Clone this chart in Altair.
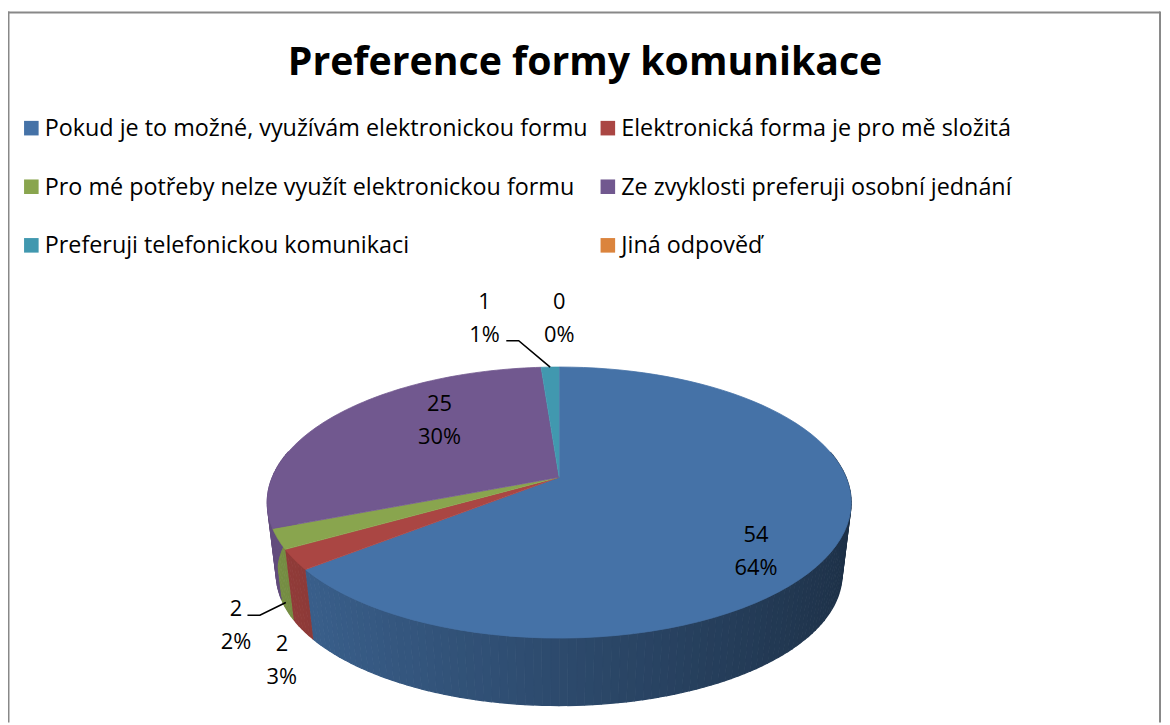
import altair as alt
import pandas as pd

# ---------------- data ----------------
title = "Preference formy komunikace"
categories = [
    "Pokud je to možné, využívám elektronickou formu",
    "Elektronická forma je pro mě složitá",
    "Pro mé potřeby nelze využít elektronickou formu",
    "Ze zvyklosti preferuji osobní jednání",
    "Preferuji telefonickou komunikaci",
    "Jiná odpověď",
]
counts = [54, 2, 2, 25, 1, 0]
percent_labels = ["64%", "3%", "2%", "30%", "1%", "0%"]
colors = ["#4572A7", "#AA4643", "#89A54E", "#71588F", "#4198AF", "#DB843D"]

# ---------------- label layout (radius factor, angular shift) ----------------
label_radius = [0.806, 1.349, 1.318, 0.654, 1.601, 1.565]
label_shift_deg = [14.0, -21.1, -19.4, 13.9, -10.0, 0.0]
leader_on = [0, 0, 1, 0, 1, 0]
leader_dx = [0, 0, 11.5, 0, 22, 0]
leader_dy = [0, 0, -10, 0, 22, 0]
leader_depth = [0, 0, 0.9, 0, 0, 0]

# ---------------- geometry of the 3D pie (perspective ellipse) ----------------
W, H = 1162, 717
CX, CY, AX, BZ, G = 563, 478, 288.8, 131.7, 0.1868
S, CYB = 0.969, 551
FONT = "Open Sans"


def hex_rgb(h):
    return int(h[1:3], 16), int(h[3:5], 16), int(h[5:7], 16)


df = pd.DataFrame({
    "cat": categories,
    "val": counts,
    "idx": list(range(len(categories))),
    "pct": percent_labels,
    "r": [hex_rgb(c)[0] for c in colors],
    "g": [hex_rgb(c)[1] for c in colors],
    "b": [hex_rgb(c)[2] for c in colors],
    "lr": label_radius,
    "ls": label_shift_deg,
    "lon": leader_on,
    "ldx": leader_dx,
    "ldy": leader_dy,
    "ldep": leader_depth,
})

xs = alt.Scale(domain=[8, 8 + W], nice=False, zero=False)
ys = alt.Scale(domain=[8, 8 + H], nice=False, zero=False, reverse=True)
color_scale = alt.Scale(domain=categories, range=colors)


def with_angles(ch):
    return (
        ch.transform_joinaggregate(total="sum(val)")
        .transform_window(cum="sum(val)", sort=[alt.SortField("idx")], frame=[None, 0])
        .transform_calculate(
            a0="(datum.cum - datum.val) / datum.total * 2 * PI",
            a1="datum.cum / datum.total * 2 * PI",
        )
    )


def proj_x(X, Z, s="1"):
    return f"{CX} + ({s}) * {AX} * ({X}) / (1 + {G} * ({Z}))"


def proj_y(X, Z, s="1", cy=f"{CY}"):
    return f"({cy}) - ({s}) * {BZ} * ({Z}) / (1 + {G} * ({Z}))"


# ---------------- side walls (shaded strips) ----------------
side = (
    with_angles(alt.Chart(df))
    .transform_filter("datum.val > 0")
    .transform_calculate(c0="max(datum.a0, PI / 2 - 0.2)", c1="min(datum.a1, 3 * PI / 2 + 0.2)")
    .transform_filter("datum.c1 > datum.c0")
    .transform_calculate(n="ceil((datum.c1 - datum.c0) / 0.025)")
    .transform_calculate(ss="sequence(0, datum.n)")
    .transform_flatten(["ss"], as_=["s"])
    .transform_calculate(jj="[0, 1, 2, 3]")
    .transform_flatten(["jj"], as_=["j"])
    .transform_calculate(
        t="datum.c0 + (datum.c1 - datum.c0) * (datum.s + ((datum.j == 1 || datum.j == 2) ? 1 : 0)) / datum.n",
        tm="datum.c0 + (datum.c1 - datum.c0) * (datum.s + 0.5) / datum.n",
        lev="datum.j >= 2 ? 1 : 0",
    )
    .transform_calculate(
        X="sin(datum.t)",
        Z="cos(datum.t)",
        f="0.65 - 0.23 * sin(datum.tm)",
        sc=f"datum.lev == 1 ? {S} : 1",
        cyy=f"datum.lev == 1 ? {CYB} : {CY}",
    )
    .transform_calculate(
        px=proj_x("datum.X", "datum.Z", "datum.sc"),
        py=proj_y("datum.X", "datum.Z", "datum.sc", "datum.cyy"),
        scol="'rgb(' + round(datum.r * datum.f) + ',' + round(datum.g * datum.f) + ',' + round(datum.b * datum.f) + ')'",
    )
    .mark_line(strokeWidth=1.2, interpolate="linear")
    .encode(
        x=alt.X("px:Q", scale=xs, axis=None),
        y=alt.Y("py:Q", scale=ys, axis=None),
        order=alt.Order("j:Q"),
        detail=[alt.Detail("cat:N"), alt.Detail("s:Q")],
        fill=alt.Fill("scol:N", scale=None),
        stroke=alt.Stroke("scol:N", scale=None),
    )
)

# ---------------- top faces ----------------
top = (
    with_angles(alt.Chart(df))
    .transform_filter("datum.val > 0")
    .transform_calculate(ks="sequence(-1, 81)")
    .transform_flatten(["ks"], as_=["k"])
    .transform_calculate(
        t="datum.a0 + (datum.a1 - datum.a0) * max(datum.k, 0) / 80",
        rr="datum.k < 0 ? 0 : 1",
    )
    .transform_calculate(X="datum.rr * sin(datum.t)", Z="datum.rr * cos(datum.t)")
    .transform_calculate(px=proj_x("datum.X", "datum.Z"), py=proj_y("datum.X", "datum.Z"))
    .mark_line(strokeWidth=0.8, interpolate="linear")
    .encode(
        x=alt.X("px:Q", scale=xs, axis=None),
        y=alt.Y("py:Q", scale=ys, axis=None),
        order=alt.Order("k:Q"),
        detail=alt.Detail("cat:N"),
        fill=alt.Fill("cat:N", scale=color_scale, legend=None),
        stroke=alt.Stroke("cat:N", scale=color_scale, legend=None),
    )
)

# ---------------- legend (2 columns, row-major) ----------------
legend_base = alt.Chart(df).transform_calculate(
    col="datum.idx % 2", row="floor(datum.idx / 2)"
).transform_calculate(
    lgx="31.5 + datum.col * 580.5", lgy="126.5 + datum.row * 59"
)
legend_sym = legend_base.mark_square(size=215, opacity=1).encode(
    x=alt.X("lgx:Q", scale=xs, axis=None),
    y=alt.Y("lgy:Q", scale=ys, axis=None),
    fill=alt.Fill("cat:N", scale=color_scale, legend=None),
)
legend_txt = legend_base.mark_text(
    font=FONT, fontSize=23.5, align="left", baseline="middle", color="black", dx=13.5, dy=1
).encode(
    x=alt.X("lgx:Q", scale=xs, axis=None),
    y=alt.Y("lgy:Q", scale=ys, axis=None),
    text="cat:N",
)

# ---------------- data labels ----------------
label_base = (
    with_angles(alt.Chart(df))
    .transform_calculate(
        m="(datum.a0 + datum.a1) / 2 + datum.ls * PI / 180",
        mid="(datum.a0 + datum.a1) / 2",
    )
    .transform_calculate(LX="datum.lr * sin(datum.m)", LZ="datum.lr * cos(datum.m)")
    .transform_calculate(lx=proj_x("datum.LX", "datum.LZ"), ly=proj_y("datum.LX", "datum.LZ"))
)

labels = label_base.transform_calculate(
    txt="datum.val + '\\n' + datum.pct"
).mark_text(
    font=FONT, fontSize=22, lineBreak="\n", lineHeight=33,
    align="center", baseline="middle", color="black", dy=-16.5,
).encode(
    x=alt.X("lx:Q", scale=xs, axis=None),
    y=alt.Y("ly:Q", scale=ys, axis=None),
    text="txt:N",
)

leaders = (
    label_base.transform_filter("datum.lon == 1")
    .transform_calculate(AXn="sin(datum.mid)", AZn="cos(datum.mid)")
    .transform_calculate(
        tx=proj_x("datum.AXn", "datum.AZn"),
        ty=proj_y("datum.AXn", "datum.AZn"),
        bx=proj_x("datum.AXn", "datum.AZn", f"{S}"),
        by=proj_y("datum.AXn", "datum.AZn", f"{S}", f"{CYB}"),
    )
    .transform_calculate(
        ancx="datum.tx + datum.ldep * (datum.bx - datum.tx)",
        ancy="datum.ty + datum.ldep * (datum.by - datum.ty)",
    )
    .transform_calculate(pp="[0, 1, 2]")
    .transform_flatten(["pp"], as_=["p"])
    .transform_calculate(
        qx="datum.p == 0 ? datum.lx + datum.ldx : (datum.p == 1 ? datum.lx + datum.ldx + 12.5 : datum.ancx)",
        qy="datum.p == 2 ? datum.ancy : datum.ly + datum.ldy",
    )
    .mark_line(color="black", strokeWidth=1.6)
    .encode(
        x=alt.X("qx:Q", scale=xs, axis=None),
        y=alt.Y("qy:Q", scale=ys, axis=None),
        order=alt.Order("p:Q"),
        detail=alt.Detail("cat:N"),
    )
)

# ---------------- title ----------------
title_layer = alt.Chart(pd.DataFrame({"t": [title]})).mark_text(
    font=FONT, fontWeight="bold", fontSize=39.5, align="center", baseline="alphabetic", color="black"
).encode(text="t:N", x=alt.value(589 - 8), y=alt.value(73 - 8))

# ---------------- chart border (left, top, right) ----------------
one = alt.Data(values=[{}])
border_col = "#888888"
b_left = alt.Chart(one).mark_rule(color=border_col, strokeWidth=2).encode(
    x=alt.value(0.5), y=alt.value(1), y2=alt.value(H))
b_top = alt.Chart(one).mark_rule(color=border_col, strokeWidth=2).encode(
    x=alt.value(0), x2=alt.value(W - 2), y=alt.value(2))
b_right = alt.Chart(one).mark_rule(color=border_col, strokeWidth=2).encode(
    x=alt.value(W - 2), y=alt.value(1), y2=alt.value(H))

chart = (
    alt.layer(side, top, leaders, labels, legend_sym, legend_txt, title_layer, b_left, b_top, b_right)
    .properties(width=W, height=H, autosize=alt.AutoSizeParams(type="none"), padding=0)
    .resolve_scale(fill="independent", stroke="independent")
    .configure_view(stroke=None)
)

chart.save("out.html", embed_options={"renderer": "svg", "actions": False})
